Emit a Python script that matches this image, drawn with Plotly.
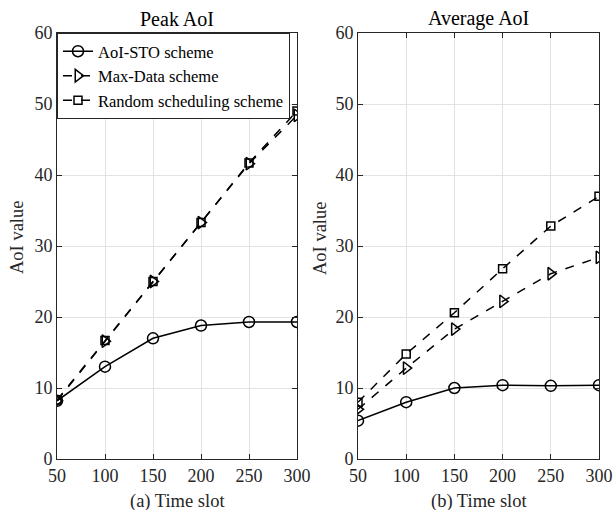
import plotly.graph_objects as go
from plotly.subplots import make_subplots

time_slots = [50, 100, 150, 200, 250, 300]
series_names = ["AoI-STO scheme", "Max-Data scheme", "Random scheduling scheme"]

peak_sto = [8.2, 13.0, 17.0, 18.8, 19.3, 19.3]
peak_maxdata = [8.2, 16.6, 25.0, 33.3, 41.6, 48.4]
peak_random = [8.3, 16.7, 25.0, 33.3, 41.7, 49.0]

avg_sto = [5.4, 8.0, 10.0, 10.4, 10.3, 10.4]
avg_maxdata = [7.0, 12.8, 18.3, 22.2, 26.1, 28.4]
avg_random = [8.0, 14.8, 20.6, 26.8, 32.8, 37.0]

y_ticks = [0, 10, 20, 30, 40, 50, 60]
x_ticks = [50, 100, 150, 200, 250, 300]

FONT = "Liberation Serif"
styles = [
    dict(dash="solid", symbol="circle-open", size=11),
    dict(dash="dash", symbol="triangle-right-open", size=11),
    dict(dash="dash", symbol="square-open", size=8),
]

fig = make_subplots(rows=1, cols=2)

for col, data in [(1, [peak_sto, peak_maxdata, peak_random]),
                  (2, [avg_sto, avg_maxdata, avg_random])]:
    for name, ys, st in zip(series_names, data, styles):
        fig.add_trace(go.Scatter(
            x=time_slots, y=ys, name=name, mode="lines+markers",
            line=dict(color="black", width=1.5, dash=st["dash"]),
            marker=dict(symbol=st["symbol"], size=st["size"], color="black",
                        line=dict(color="black", width=1.5)),
            showlegend=(col == 1), legendgroup=name,
        ), row=1, col=col)

axis_common = dict(showline=True, linecolor="#262626", linewidth=1, mirror="ticks",
                   ticks="inside", ticklen=5, tickcolor="#262626", automargin=False,
                   showgrid=True, gridcolor="#e3e3e3", gridwidth=1, zeroline=False,
                   tickfont=dict(family=FONT, size=18, color="#262626"))

fig.update_xaxes(**axis_common, range=[50, 300], tickvals=x_ticks)
fig.update_yaxes(**axis_common, range=[0, 60], tickvals=y_ticks)

D1 = [57 / 616, 297 / 616]
D2 = [358 / 616, 599 / 616]
DY = [1 - 459 / 510, 1 - 33 / 510]

LBL = dict(family=FONT, size=18.5, color="#262626")
TTL = dict(family=FONT, size=20, color="black")


def ann(text, x, y, xa, ya, font, angle=0):
    return dict(text=text, x=x, y=y, xref="paper", yref="paper", xanchor=xa, yanchor=ya,
                showarrow=False, font=font, textangle=angle)


fig.update_layout(
    width=616, height=510,
    margin=dict(l=0, r=0, t=0, b=0, autoexpand=False),
    plot_bgcolor="white", paper_bgcolor="white",
    font=dict(family=FONT, color="#262626"),
    xaxis=dict(domain=D1),
    xaxis2=dict(domain=D2),
    yaxis=dict(domain=DY),
    yaxis2=dict(domain=DY),
    legend=dict(x=D1[0], y=DY[1], xanchor="left", yanchor="top",
                bgcolor="white", bordercolor="#262626", borderwidth=1,
                font=dict(family=FONT, size=16.5, color="black"),
                tracegroupgap=0, itemwidth=30),
    annotations=[
        ann("Peak AoI", sum(D1) / 2, DY[1] + 1 / 510, "center", "bottom", TTL),
        ann("Average AoI", sum(D2) / 2, DY[1] + 1 / 510, "center", "bottom", TTL),
        ann("(a) Time slot", sum(D1) / 2, 1 - 501 / 510, "center", "middle", LBL),
        ann("(b) Time slot", sum(D2) / 2, 1 - 501 / 510, "center", "middle", LBL),
        ann("AoI value", 17 / 616, 1 - 238 / 510, "center", "middle", LBL, -90),
        ann("AoI value", 320 / 616, 1 - 238 / 510, "center", "middle", LBL, -90),
    ],
)

fig.write_html("out.html", config={"displayModeBar": False},
               post_script="document.body.style.margin='0px';document.body.style.padding='0px';")
